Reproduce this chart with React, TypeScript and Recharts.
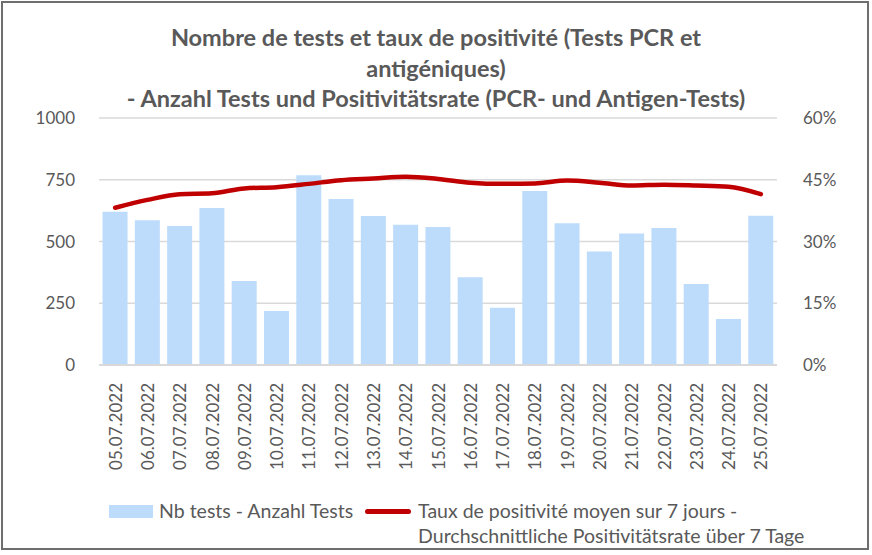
import { ComposedChart, Bar, Line, XAxis, YAxis, CartesianGrid } from 'recharts';

const dates = [
  '05.07.2022', '06.07.2022', '07.07.2022', '08.07.2022', '09.07.2022', '10.07.2022', '11.07.2022',
  '12.07.2022', '13.07.2022', '14.07.2022', '15.07.2022', '16.07.2022', '17.07.2022', '18.07.2022',
  '19.07.2022', '20.07.2022', '21.07.2022', '22.07.2022', '23.07.2022', '24.07.2022', '25.07.2022',
];
const nbTests = [620, 586, 563, 636, 340, 219, 768, 672, 603, 568, 559, 355, 232, 704, 574, 460, 532, 555, 328, 186, 604];
const tauxPositivite = [38.2, 40.1, 41.5, 41.7, 42.9, 43.2, 44.0, 44.9, 45.3, 45.7, 45.2, 44.3, 44.0, 44.1, 44.8, 44.3, 43.6, 43.8, 43.6, 43.3, 41.5];
const leftTicks = [0, 250, 500, 750, 1000];
const rightTicks = [0, 15, 30, 45, 60];

const titleLines = [
  'Nombre de tests et taux de positivité (Tests PCR et',
  'antigéniques)',
  '- Anzahl Tests und Positivitätsrate (PCR- und Antigen-Tests)',
];
const barName = 'Nb tests - Anzahl Tests';
const lineNameLines = ['Taux de positivité moyen sur 7 jours -', 'Durchschnittliche Positivitätsrate über 7 Tage'];

const FONT = 'Lato, "Open Sans", sans-serif';
const GREY = '#595959';
const BAR_COLOR = '#BDDCFB';
const LINE_COLOR = '#C00000';

const DateTick = (props: any) => {
  const { x, y, payload } = props;
  return (
    <text
      transform={`translate(${x},${y}) rotate(-90)`}
      textAnchor="end"
      dominantBaseline="central"
      fill={GREY}
      fontSize={17}
      fontFamily={FONT}
    >
      {payload.value}
    </text>
  );
};

export default function App() {
  const data = dates.map((d, i) => ({ date: d, tests: nbTests[i], taux: tauxPositivite[i] }));

  return (
    <div style={{ position: 'absolute', left: 0, top: 0, width: 872, height: 555, background: '#fff', fontFamily: FONT }}>
      <div
        style={{
          position: 'absolute', left: 1, top: 1, width: 864, height: 545,
          border: '2px solid #6e6e6e', boxSizing: 'content-box',
        }}
      />
      <div
        style={{
          position: 'absolute', left: 0, top: 22, width: 872, textAlign: 'center',
          color: GREY, fontWeight: 700, fontSize: 23.5, lineHeight: '30.5px',
        }}
      >
        {titleLines.map((t) => (
          <div key={t}>{t}</div>
        ))}
      </div>

      <div style={{ position: 'absolute', left: 0, top: 0 }}>
        <ComposedChart
          width={872}
          height={555}
          data={data}
          margin={{ top: 118, right: 0, bottom: 80, left: 0 }}
          barCategoryGap="11%"
        >
          <CartesianGrid yAxisId="left" vertical={false} stroke="#d9d9d9" strokeWidth={1.3} />
          <XAxis
            dataKey="date"
            interval={0}
            height={110}
            tickLine={false}
            axisLine={{ stroke: '#d9d9d9', strokeWidth: 2 }}
            tick={<DateTick />}
            tickMargin={12}
          />
          <YAxis
            yAxisId="left"
            width={99}
            domain={[0, 1000]}
            ticks={leftTicks}
            axisLine={false}
            tickLine={false}
            tickMargin={18}
            tick={{ fill: GREY, fontSize: 17, fontFamily: FONT }}
          />
          <YAxis
            yAxisId="right"
            orientation="right"
            width={95}
            domain={[0, 60]}
            ticks={rightTicks}
            axisLine={false}
            tickLine={false}
            tickMargin={20}
            tickFormatter={(v) => `${v}%`}
            tick={{ fill: GREY, fontSize: 17, fontFamily: FONT, textAnchor: 'start' }}
          />
          <Bar yAxisId="left" dataKey="tests" name={barName} fill={BAR_COLOR} isAnimationActive={false} />
          <Line
            yAxisId="right"
            dataKey="taux"
            type="monotone"
            stroke={LINE_COLOR}
            strokeWidth={4.5}
            strokeLinecap="round"
            dot={false}
            activeDot={false}
            isAnimationActive={false}
          />
        </ComposedChart>
      </div>

      <div style={{ position: 'absolute', left: 109, top: 498, color: GREY, fontSize: 19.5, lineHeight: '25px', display: 'flex' }}>
        <div style={{ width: 44, height: 13, background: BAR_COLOR, marginTop: 7 }} />
        <div style={{ marginLeft: 6 }}>{barName}</div>
        <div style={{ width: 46, height: 5, background: LINE_COLOR, borderRadius: 3, marginTop: 11, marginLeft: 12 }} />
        <div style={{ marginLeft: 7 }}>
          {lineNameLines.map((t) => (
            <div key={t}>{t}</div>
          ))}
        </div>
      </div>
    </div>
  );
}
